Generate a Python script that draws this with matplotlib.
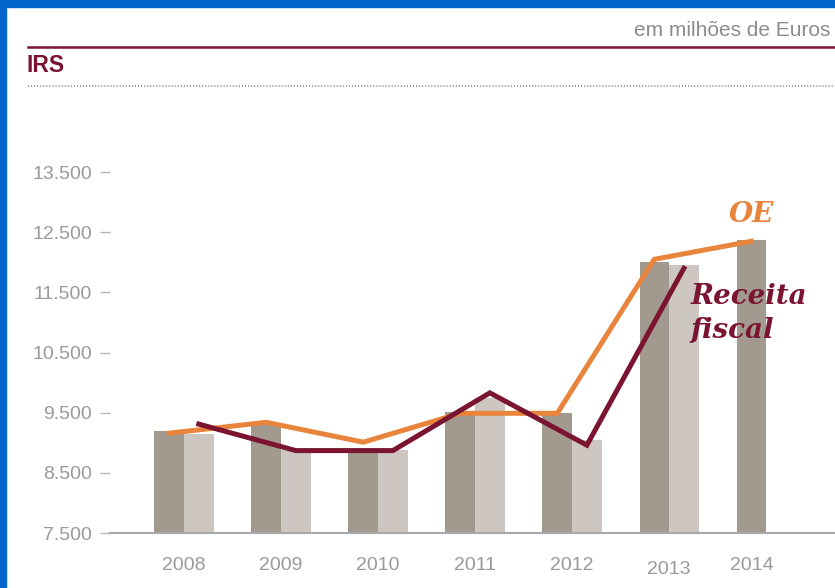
import matplotlib
matplotlib.use("Agg")
import matplotlib.pyplot as plt
import matplotlib.patches as mpatches
from matplotlib.lines import Line2D
import numpy as np

# data (milhoes de euros)
years = ["2008", "2009", "2010", "2011", "2012", "2013", "2014"]
oe_bars = [9200, 9300, 8900, 9510, 9500, 12000, 12370]
receita_bars = [9150, 8880, 8880, 9750, 9050, 11950]
oe_line = [9160, 9340, 9010, 9490, 9490, 12050, 12350]
receita_line = [9310, 8870, 8870, 9830, 8960, 11900]
yticks = [7500, 8500, 9500, 10500, 11500, 12500, 13500]

dark_red = "#7a1430"
orange = "#e8843c"
bar_dark = "#a2998f"
bar_light = "#cec7c1"
grey_txt = "#9a9a9a"

W, H = 835, 588
fig = plt.figure(figsize=(W / 100, H / 100), dpi=100)
fig.patch.set_facecolor("white")

# blue frame left and top
fig.patches.append(mpatches.Rectangle((0, 0), 6 / W, 1, transform=fig.transFigure,
                                      color="#0066cc", zorder=0))
fig.patches.append(mpatches.Rectangle((0, 1 - 7 / H), 1, 7 / H, transform=fig.transFigure,
                                      color="#0066cc", zorder=0))

# header
fig.text(830 / W, 1 - 31 / H, "em milhões de Euros", ha="right", va="center",
         fontsize=15, color="#8c8c8c", family="Liberation Sans")
fig.lines.append(Line2D([28 / W, 1], [1 - 47 / H] * 2, transform=fig.transFigure,
                        color=dark_red, lw=1.8))
fig.text(27 / W, 1 - 65 / H, "IRS", ha="left", va="center", fontsize=16.5,
         fontweight="bold", color=dark_red, family="Liberation Sans")
fig.lines.append(Line2D([28 / W, 1], [1 - 86 / H] * 2, transform=fig.transFigure,
                        color="#7a7a7a", lw=1.1, ls=(0, (0.7, 1.3))))

# chart area
ax = fig.add_axes([110 / W, 55 / H, 725 / W, 391 / H])
x = np.arange(len(years))
w = 0.305
ax.bar(x - w / 2, oe_bars, width=w, color=bar_dark, zorder=1)
ax.bar(x[:len(receita_bars)] + w / 2, receita_bars, width=w, color=bar_light, zorder=1)
ax.plot(x - w / 2, oe_line, color=orange, lw=3.6, solid_joinstyle="miter", zorder=3)
ax.plot(x[:len(receita_line)] + w / 2, receita_line, color=dark_red, lw=3.6,
        solid_joinstyle="miter", zorder=4)

ax.text(6 - w / 2, 12790, "OE", ha="center", va="center", fontsize=20,
        fontweight="bold", fontstyle="italic", color=orange, family="DejaVu Serif")
ax.text(5.22, 11150, "Receita\nfiscal", ha="left", va="center", fontsize=20,
        fontweight="bold", fontstyle="italic", color=dark_red, family="DejaVu Serif",
        linespacing=1.3)

ax.set_xlim(-0.763, 6.71)
ax.set_ylim(7500, 14000)
ax.set_yticks(yticks)
ax.set_yticklabels([f"{v:,}".replace(",", ".") for v in yticks])
xpos = [i if i < 6 else i - w / 2 for i in x]
ax.set_xticks(xpos)
ax.set_xticklabels(years)
ax.get_xticklabels()[5].set_y(-0.012)

for s in ["top", "right", "left"]:
    ax.spines[s].set_visible(False)
ax.spines["bottom"].set_color("#a8a8a8")
ax.spines["bottom"].set_linewidth(1.5)
ax.spines["bottom"].set_zorder(5)
ax.tick_params(axis="y", direction="out", length=7, width=1, color="#b5b5b5",
               pad=6, labelsize=14, labelcolor=grey_txt)
ax.tick_params(axis="x", length=0, pad=17, labelsize=14, labelcolor=grey_txt)
for lab in ax.get_xticklabels() + ax.get_yticklabels():
    lab.set_family("Liberation Sans")

fig.savefig("out.png", dpi=100, facecolor="white")
